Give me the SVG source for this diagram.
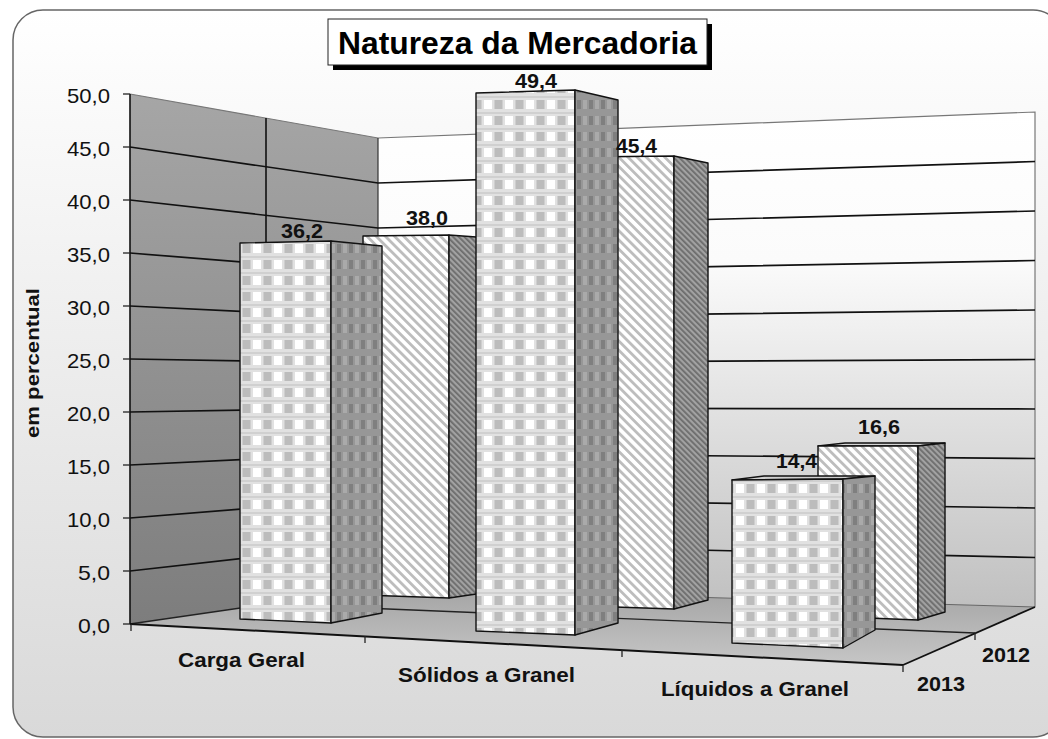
<svg xmlns="http://www.w3.org/2000/svg" width="1048" height="739" viewBox="0 0 1048 739">
<defs>
<style>
.grid{stroke:#111;stroke-width:1.7;fill:none}
.edge{stroke:#777;stroke-width:1.2;fill:none}
.axis{stroke:#111;stroke-width:1.6;fill:none}
.tick{stroke:#222;stroke-width:1.3}
.bar{stroke:#111;stroke-width:1.4;stroke-linejoin:round}
.ylab{font-family:"Liberation Sans",Arial,sans-serif;font-size:21px;fill:#111;text-anchor:end}
.vlab{font-family:"Liberation Sans",Arial,sans-serif;font-size:19.5px;font-weight:bold;fill:#111;text-anchor:middle}
.clab{font-family:"Liberation Sans",Arial,sans-serif;font-size:21px;font-weight:bold;fill:#111;text-anchor:middle}
</style>
<linearGradient id="bg" x1="0" y1="0" x2="0" y2="1">
<stop offset="0" stop-color="#ffffff"/>
<stop offset="1" stop-color="#d9d9d9"/>
</linearGradient>
<linearGradient id="leftwall" x1="0" y1="0" x2="0" y2="1">
<stop offset="0" stop-color="#a6a6a6"/>
<stop offset="1" stop-color="#7d7d7d"/>
</linearGradient>
<linearGradient id="backwall" x1="0" y1="0" x2="0" y2="1">
<stop offset="0" stop-color="#ffffff"/>
<stop offset="0.3" stop-color="#fbfbfb"/>
<stop offset="1" stop-color="#c0c0c0"/>
</linearGradient>
<linearGradient id="floorg" x1="0" y1="0" x2="0" y2="1">
<stop offset="0" stop-color="#a4a4a4"/>
<stop offset="1" stop-color="#c6c6c6"/>
</linearGradient>
<pattern id="check" width="21" height="16" patternUnits="userSpaceOnUse">
<rect width="21" height="16" fill="#e1e1e1"/>
<rect x="0" y="0" width="21" height="2" fill="#d0d0d0"/>
<rect x="1" y="4" width="8" height="9" fill="#ffffff"/>
<rect x="11.5" y="4" width="8" height="9" fill="#bcbcbc"/>
</pattern>
<pattern id="checkside" width="12" height="16" patternUnits="userSpaceOnUse">
<rect width="12" height="16" fill="#979797"/>
<rect x="1" y="4" width="4" height="9" fill="#7f7f7f"/>
<rect x="7" y="4" width="4" height="9" fill="#aaaaaa"/>
</pattern>
<pattern id="stripe" width="6.5" height="6.5" patternUnits="userSpaceOnUse" patternTransform="rotate(-45)">
<rect width="6.5" height="6.5" fill="#ffffff"/>
<rect width="2.8" height="6.5" fill="#bdbdbd"/>
</pattern>
<pattern id="stripeside" width="4" height="4" patternUnits="userSpaceOnUse" patternTransform="rotate(-45)">
<rect width="4" height="4" fill="#a2a2a2"/>
<rect width="1.8" height="4" fill="#6c6c6c"/>
</pattern>
</defs>

<g id="frame">
<rect x="0" y="0" width="1048" height="739" fill="#ffffff"/>
<rect x="13" y="10" width="1050" height="727" rx="30" ry="30" fill="url(#bg)" stroke="#666" stroke-width="1.5"/>
</g>

<g id="walls">
<polygon points="130,94 378,138 378,588 130,624" fill="url(#leftwall)"/>
<polygon points="378,138 1035,112 1035,607 378,588" fill="url(#backwall)"/>
<polyline class="edge" points="130,94 378,138 1035,112 1035,607"/>
<line class="axis" x1="378" y1="138" x2="378" y2="588" style="stroke:#333;stroke-width:1.2"/>
<line class="axis" x1="266" y1="118" x2="266" y2="604"/>
</g>

<g id="gridlines">
<polyline class="grid" points="130,571 378,543 1035,557.5"/>
<polyline class="grid" points="130,518 378,498 1035,508"/>
<polyline class="grid" points="130,465 378,453 1035,458.5"/>
<polyline class="grid" points="130,412 378,408 1035,409"/>
<polyline class="grid" points="130,359 378,363 1035,359.5"/>
<polyline class="grid" points="130,306 378,318 1035,310"/>
<polyline class="grid" points="130,253 378,273 1035,260.5"/>
<polyline class="grid" points="130,200 378,228 1035,211"/>
<polyline class="grid" points="130,147 378,183 1035,161.5"/>
</g>

<g id="floor">
<polygon points="130,624 378,588 1035,607 903,665" fill="url(#floorg)"/>
<line x1="378" y1="588" x2="1035" y2="607" stroke="#666" stroke-width="1"/>
<line x1="130" y1="624" x2="378" y2="588" stroke="#222" stroke-width="1.4"/>
<line x1="266" y1="604" x2="975" y2="633" stroke="#222" stroke-width="1.4"/>
<line x1="130" y1="624" x2="903" y2="665" stroke="#111" stroke-width="2"/>
<line x1="903" y1="665" x2="1035" y2="607" stroke="#111" stroke-width="1.8"/>
</g>

<g id="axes">
<line class="axis" x1="130" y1="94" x2="130" y2="624"/>
<line class="tick" x1="123" y1="94" x2="130" y2="94"/>
<line class="tick" x1="123" y1="147" x2="130" y2="147"/>
<line class="tick" x1="123" y1="200" x2="130" y2="200"/>
<line class="tick" x1="123" y1="253" x2="130" y2="253"/>
<line class="tick" x1="123" y1="306" x2="130" y2="306"/>
<line class="tick" x1="123" y1="359" x2="130" y2="359"/>
<line class="tick" x1="123" y1="412" x2="130" y2="412"/>
<line class="tick" x1="123" y1="465" x2="130" y2="465"/>
<line class="tick" x1="123" y1="518" x2="130" y2="518"/>
<line class="tick" x1="123" y1="571" x2="130" y2="571"/>
<line class="tick" x1="123" y1="624" x2="130" y2="624"/>
<line class="tick" x1="131" y1="624" x2="131" y2="631"/>
<line class="tick" x1="365" y1="636" x2="365" y2="643"/>
<line class="tick" x1="622" y1="650" x2="622" y2="657"/>
<line class="tick" x1="903" y1="665" x2="903" y2="672"/>
<line class="tick" x1="975" y1="633" x2="975" y2="640"/>
</g>

<g id="bar-carga-2012">
<polygon class="bar" points="363,236 449,235 449,598 363,595" fill="url(#stripe)"/>
<polygon class="bar" points="449,235 490,238 490,592 449,598" fill="url(#stripeside)"/>
</g>
<g id="bar-solidos-2012">
<polygon class="bar" points="585,157 674,156 674,609 585,606" fill="url(#stripe)"/>
<polygon class="bar" points="674,156 708,163 708,600 674,609" fill="url(#stripeside)"/>
</g>
<g id="bar-liquidos-2012">
<polygon class="bar" points="818,446 918,446 945,443 845,443" fill="#d6d6d6"/>
<polygon class="bar" points="818,446 918,446 918,620 818,616" fill="url(#stripe)"/>
<polygon class="bar" points="918,446 945,443 945,612 918,620" fill="url(#stripeside)"/>
</g>
<g id="bar-carga-2013">
<polygon class="bar" points="240,243 331,241 331,623 240,619" fill="url(#check)"/>
<polygon class="bar" points="331,241 382,246 382,613 331,623" fill="url(#checkside)"/>
</g>
<g id="bar-solidos-2013">
<polygon class="bar" points="476,93 575,90 575,635 476,631" fill="url(#check)"/>
<polygon class="bar" points="575,90 618,100 618,623 575,635" fill="url(#checkside)"/>
</g>
<g id="bar-liquidos-2013">
<polygon class="bar" points="732,480 843,479 875,476 764,476" fill="#d0d0d0"/>
<polygon class="bar" points="732,480 843,479 843,648 732,643" fill="url(#check)"/>
<polygon class="bar" points="843,479 875,476 875,630 843,648" fill="url(#checkside)"/>
</g>

<g id="value-labels">
<text class="vlab" x="302" y="238" textLength="42" lengthAdjust="spacingAndGlyphs">36,2</text>
<text class="vlab" x="427" y="225" textLength="42" lengthAdjust="spacingAndGlyphs">38,0</text>
<text class="vlab" x="536" y="88" textLength="42" lengthAdjust="spacingAndGlyphs">49,4</text>
<text class="vlab" x="636.5" y="153" textLength="41" lengthAdjust="spacingAndGlyphs">45,4</text>
<text class="vlab" x="796.5" y="468" textLength="41" lengthAdjust="spacingAndGlyphs">14,4</text>
<text class="vlab" x="879" y="434" textLength="42" lengthAdjust="spacingAndGlyphs">16,6</text>
</g>

<g id="y-labels">
<text class="ylab" x="110" y="102.5" textLength="43" lengthAdjust="spacingAndGlyphs">50,0</text>
<text class="ylab" x="110" y="155.5" textLength="43" lengthAdjust="spacingAndGlyphs">45,0</text>
<text class="ylab" x="110" y="208.5" textLength="43" lengthAdjust="spacingAndGlyphs">40,0</text>
<text class="ylab" x="110" y="261.5" textLength="43" lengthAdjust="spacingAndGlyphs">35,0</text>
<text class="ylab" x="110" y="314.5" textLength="43" lengthAdjust="spacingAndGlyphs">30,0</text>
<text class="ylab" x="110" y="367.5" textLength="43" lengthAdjust="spacingAndGlyphs">25,0</text>
<text class="ylab" x="110" y="420.5" textLength="43" lengthAdjust="spacingAndGlyphs">20,0</text>
<text class="ylab" x="110" y="473.5" textLength="43" lengthAdjust="spacingAndGlyphs">15,0</text>
<text class="ylab" x="110" y="526.5" textLength="43" lengthAdjust="spacingAndGlyphs">10,0</text>
<text class="ylab" x="110" y="579.5" textLength="32" lengthAdjust="spacingAndGlyphs">5,0</text>
<text class="ylab" x="110" y="632.5" textLength="32" lengthAdjust="spacingAndGlyphs">0,0</text>
<text transform="translate(39,363) rotate(-90)" x="0" y="0" style="font-family:'Liberation Sans',Arial,sans-serif;font-size:18px;font-weight:bold;fill:#111;text-anchor:middle" textLength="150" lengthAdjust="spacingAndGlyphs">em percentual</text>
</g>

<g id="category-labels">
<text class="clab" x="241.5" y="667" textLength="127" lengthAdjust="spacingAndGlyphs">Carga Geral</text>
<text class="clab" x="486.5" y="682" textLength="177" lengthAdjust="spacingAndGlyphs">Sólidos a Granel</text>
<text class="clab" x="755" y="696" textLength="188" lengthAdjust="spacingAndGlyphs">Líquidos a Granel</text>
<text class="clab" x="1006" y="662" textLength="48" lengthAdjust="spacingAndGlyphs">2012</text>
<text class="clab" x="941" y="691" textLength="48" lengthAdjust="spacingAndGlyphs">2013</text>
</g>

<g id="title">
<rect x="333" y="24" width="379" height="46" fill="#000"/>
<rect x="328" y="19" width="379" height="46" fill="#fff" stroke="#222" stroke-width="1"/>
<text x="517.5" y="54" style="font-family:'Liberation Sans',Arial,sans-serif;font-size:32px;font-weight:bold;fill:#000;text-anchor:middle" textLength="359" lengthAdjust="spacingAndGlyphs">Natureza da Mercadoria</text>
</g>
</svg>
